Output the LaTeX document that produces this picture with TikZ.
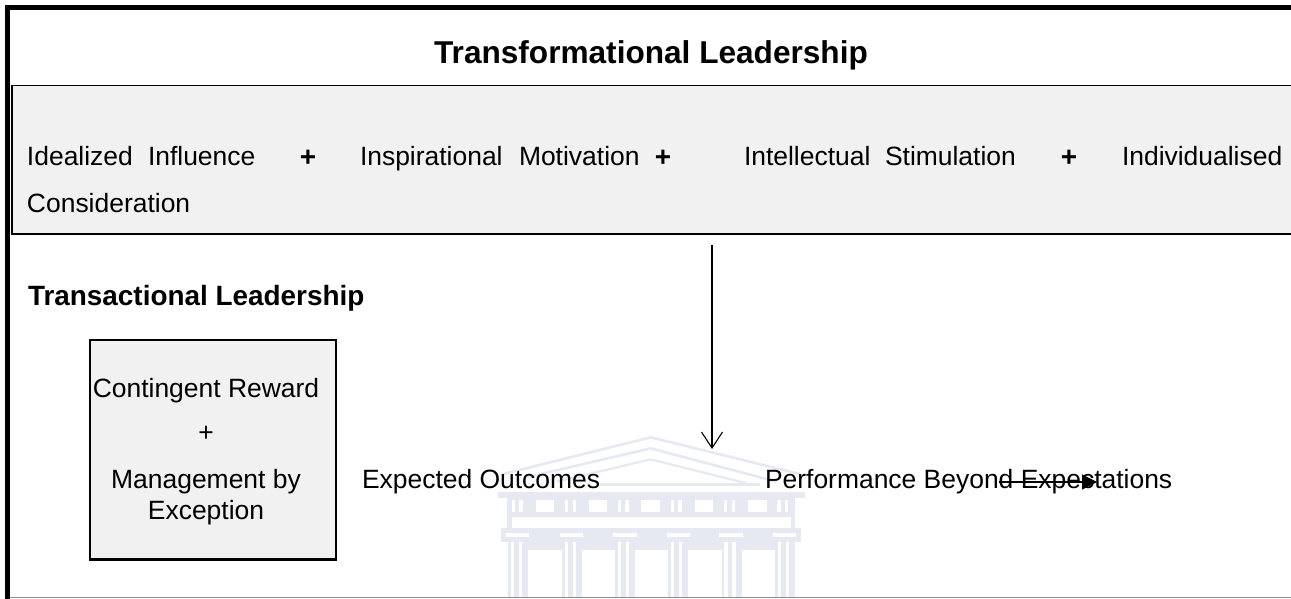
\documentclass[tikz,border=0pt]{standalone}
\usepackage{fontspec}
\setmainfont{Liberation Sans}
\usetikzlibrary{arrows.meta}
\definecolor{panel}{HTML}{F1F1F1}
\definecolor{wm}{HTML}{E6E9F2}
\newcommand{\bodyfs}{\fontsize{26.45}{30}\selectfont}
\newcommand{\headfs}{\fontsize{27.9}{32}\selectfont\bfseries}
\newcommand{\titlefs}{\fontsize{31.6}{36}\selectfont\bfseries}
\tikzset{
  txt/.style={inner sep=0pt,outer sep=0pt,anchor=base west,text=black,font=\bodyfs},
  ctxt/.style={inner sep=0pt,outer sep=0pt,anchor=base,text=black,font=\bodyfs},
  head/.style={txt,font=\headfs},
  plus/.style={ctxt,font=\headfs},
  panelbox/.style={fill=panel,draw=black,line width=1.7pt},
  framebox/.style={fill=panel,draw=black,line width=2.2pt},
  wmline/.style={draw=wm,line join=round}
}
\begin{document}
\begin{tikzpicture}[x=1pt,y=-1pt]
\useasboundingbox (0,0) rectangle (1291,599);
\fill[white] (0,0) rectangle (1291,599);
% grey panels
\path[panelbox] (12,85.5) -- (1293,85.5) -- (1293,233.8) -- (12,233.8) -- cycle;
\path[framebox] (90,340) rectangle (336,559.5);
% watermark (coordinates in 3x crop units)
\begin{scope}[shift={(400,400)},x=0.3333pt,y=-0.3333pt]
  \draw[wmline,line width=2.6pt] (310,222) -- (752,112) -- (1200,222);
  \draw[wmline,line width=2.6pt] (380,232) -- (752,145) -- (1130,245);
  \draw[wmline,line width=2.2pt] (470,245) -- (752,178) -- (1040,250);
  \draw[wm,line width=3pt] (600,255) -- (1080,255);
  \fill[wm] (295,275) rectangle (1215,295);
  \fill[wm] (322,295) rectangle (1185,385);
  \fill[white] (335,350) rectangle (1172,383);
  \foreach \x in {407,566,724,884,1044}{\fill[white] (\x,300) rectangle (\x+56,337);}
  \foreach \x in {335,358,495,518,653,676,812,835,972,995,1132,1155}{\fill[white] (\x,300) rectangle (\x+10,337);}
  \fill[wm] (303,385) rectangle (1203,425);
  \fill[wm] (325,425) rectangle (1185,450);
  \foreach \x in {318,480,640,800,958,1118}{\fill[white] (\x,400) rectangle (\x+70,410);}
  \foreach \x in {325,486,645,805,965,1125}{
    \fill[wm] (\x,450) rectangle (\x+60,595);
    \fill[white] (\x+8,425) rectangle (\x+18,595);
    \fill[white] (\x+32,425) rectangle (\x+42,595);
  }
\end{scope}
% outer frame
\draw[black!45,line width=1pt] (5,597.5) -- (1291,597.5);
\draw[black,line width=5pt] (7.5,599) -- (7.5,7.5) -- (1293,7.5);
% title and panel text
\node[ctxt,font=\titlefs] (title) at (651,63.5) {Transformational Leadership};
\node[txt] (idealized) at (27,166) {Idealized};
\node[txt] (influence) at (148,166) {Influence};
\node[plus] (plusa) at (308,167) {+};
\node[txt] (inspirational) at (360,166) {Inspirational};
\node[txt] (motivation) at (519,166) {Motivation};
\node[plus] (plusb) at (663,167) {+};
\node[txt] (intellectual) at (744,166) {Intellectual};
\node[txt] (stimulation) at (885,166) {Stimulation};
\node[plus] (plusc) at (1069,167) {+};
\node[txt] (individualised) at (1122,166) {Individualised};
\node[txt] (consideration) at (27,212) {Consideration};
\node[head] (transactional) at (28,305) {Transactional Leadership};
% box text
\node[ctxt] (contingent) at (206,397) {Contingent Reward};
\node[ctxt] (boxplus) at (206,441) {+};
\node[ctxt] (management) at (206,488) {Management by};
\node[ctxt] (exception) at (206,519) {Exception};
% outcomes
\node[txt] (expected) at (362,488) {Expected Outcomes};
\node[txt] (performance) at (765,488) {Performance Beyond Expectations};
% arrows
\coordinate (downstart) at (712,245);
\coordinate (downend) at (712,449);
\coordinate (rightstart) at (999,482);
\coordinate (rightend) at (1097,482);
\draw[black,line width=1.1pt,-{Straight Barb[length=16pt,width=21pt,line width=1.1pt]}] (downstart) -- (downend);
\draw[black,line width=1.3pt,-{Triangle[length=15pt,width=15pt]}] (rightstart) -- (rightend);
\end{tikzpicture}
\end{document}
